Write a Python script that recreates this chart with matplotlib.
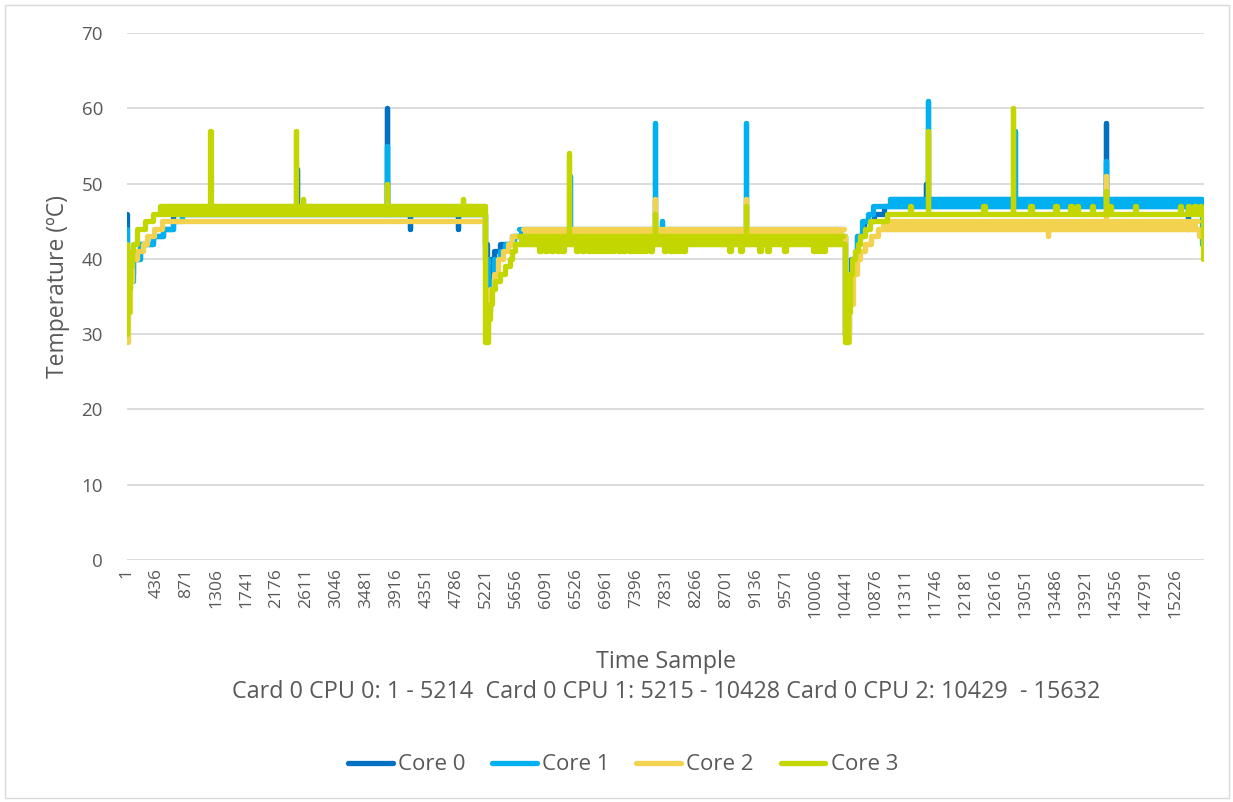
import matplotlib
matplotlib.use("Agg")
import matplotlib.pyplot as plt
from matplotlib.lines import Line2D
from matplotlib.patches import Rectangle

plt.rcParams['font.family'] = ['Open Sans', 'DejaVu Sans']

N_SAMPLES = 15632
tick_labels = ["1", "436", "871", "1306", "1741", "2176", "2611", "3046", "3481",
               "3916", "4351", "4786", "5221", "5656", "6091", "6526", "6961",
               "7396", "7831", "8266", "8701", "9136", "9571", "10006", "10441",
               "10876", "11311", "11746", "12181", "12616", "13051", "13486",
               "13921", "14356", "14791", "15226"]
y_ticks = [0, 10, 20, 30, 40, 50, 60, 70]
series_names = ["Core 0", "Core 1", "Core 2", "Core 3"]
series_colors = ["#0070C0", "#00B0F0", "#F2D24E", "#C4D600"]

# step levels (sample, temperature)
core0_levels = [(1, 46), (3, 41), (10, 35), (40, 38), (100, 40), (200, 42), (380, 43),
                (530, 44), (680, 46),
                (5210, 42), (5235, 33), (5260, 37), (5290, 40), (5330, 41), (5420, 42),
                (5600, 43),
                (10429, 30), (10470, 36), (10520, 40), (10600, 43), (10700, 45),
                (10850, 46), (11000, 47), (15620, 42)]
core1_levels = [(1, 44), (3, 38), (10, 34), (40, 37), (100, 40), (200, 42), (380, 43),
                (530, 44), (680, 45), (800, 46),
                (5210, 40), (5240, 33), (5280, 37), (5330, 40), (5420, 41), (5500, 42),
                (5620, 43),
                (10429, 30), (10480, 36), (10530, 40), (10600, 43), (10680, 45),
                (10760, 46), (10835, 47), (11080, 48), (15615, 42)]
core2_levels = [(1, 29), (20, 33), (45, 37), (80, 40), (150, 41), (240, 42), (300, 43),
                (400, 44), (520, 45),
                (5206, 29), (5240, 33), (5280, 36), (5330, 38), (5390, 40), (5460, 41),
                (5530, 42), (5600, 43),
                (10430, 29), (10480, 34), (10540, 38), (10600, 40), (10650, 41),
                (10720, 42), (10800, 43), (10900, 44), (15560, 43), (15625, 42)]
core3_levels = [(1, 42), (4, 30), (15, 33), (30, 36), (50, 39), (75, 41), (100, 42),
                (150, 44), (270, 45), (385, 46), (485, 47),
                (5204, 29), (5240, 32), (5277, 34), (5310, 36), (5350, 37), (5422, 38),
                (5495, 39), (5568, 40), (5600, 41), (5640, 42),
                (10430, 29), (10470, 33), (10500, 38), (10530, 40), (10573, 41),
                (10610, 42), (10645, 43), (10718, 44), (10790, 45), (11035, 46),
                (15625, 40)]

# short excursions (sample, temperature, duration in samples)
core0_events = [(2470, 52, 3), (3780, 60, 3), (4110, 44, 3), (4805, 44, 3),
                (11600, 50, 3), (14220, 58, 3), (15405, 44, 3)]
core1_events = [(3780, 55, 3), (6440, 51, 3), (7672, 58, 3), (7770, 45, 3),
                (8990, 58, 3), (11635, 61, 3), (12890, 57, 3), (14220, 53, 3)]
core2_events = [(7672, 48, 3), (8990, 48, 3), (13375, 43, 3), (14220, 51, 3)]
core3_events = [(1218, 57, 3), (2463, 57, 3), (2560, 48, 3), (3780, 50, 3),
                (4882, 48, 3),
                (5980, 41, 30), (6080, 41, 30), (6158, 41, 30), (6250, 41, 30),
                (6320, 41, 30), (6420, 54, 3), (6520, 41, 30), (6608, 41, 30),
                (6700, 41, 30), (6776, 41, 30), (6850, 41, 30), (6921, 41, 30),
                (6990, 41, 30), (7052, 41, 30), (7130, 41, 30), (7212, 41, 30),
                (7300, 41, 30), (7381, 41, 30), (7450, 41, 30), (7512, 41, 30),
                (7600, 41, 30), (7672, 46, 3), (7800, 41, 30), (7889, 41, 30),
                (7950, 41, 30), (8010, 41, 30), (8073, 41, 30),
                (8750, 41, 30), (8905, 41, 30), (8990, 47, 3), (9185, 41, 30),
                (9293, 41, 30), (9544, 41, 30), (9969, 41, 30), (10040, 41, 30),
                (10114, 41, 30),
                (11370, 47, 20), (11635, 57, 3), (12437, 47, 20), (12870, 60, 3),
                (13115, 47, 20), (13478, 47, 20), (13696, 47, 20), (13793, 47, 20),
                (14011, 47, 20), (14220, 49, 3), (14272, 47, 20), (14635, 47, 20),
                (15290, 47, 20), (15400, 47, 20), (15500, 47, 20), (15580, 47, 20)]

# ranges where a core flickers between two adjacent levels (start, end, low, high)
core0_bands = []
core1_bands = [(5700, 10400, 43, 44), (11080, 15600, 47, 48)]
core2_bands = [(5750, 10410, 43, 44), (10950, 15550, 44, 45)]
core3_bands = [(500, 5200, 46, 47), (5700, 10400, 42, 43)]

all_levels = [core0_levels, core1_levels, core2_levels, core3_levels]
all_events = [core0_events, core1_events, core2_events, core3_events]
all_bands = [core0_bands, core1_bands, core2_bands, core3_bands]


def level_at(levels, s):
    v = levels[0][1]
    for ls, lv in levels:
        if ls <= s:
            v = lv
    return v


def build_trace(levels, events):
    pts = list(levels)
    for s, v, w in events:
        base = level_at(levels, s)
        pts.append((s, v))
        pts.append((s + w, base))
    pts.sort(key=lambda p: p[0])
    xs = [p[0] for p in pts] + [N_SAMPLES]
    ys = [p[1] for p in pts] + [pts[-1][1]]
    return xs, ys


W, H = 1233, 802
fig = plt.figure(figsize=(W / 100, H / 100), dpi=100)
fig.patches.append(Rectangle((4.5 / W, 4.5 / H), (W - 9) / W, (H - 9) / H,
                             transform=fig.transFigure, fill=False,
                             edgecolor="#D9D9D9", linewidth=1.0))
ax = fig.add_axes([126.5 / W, 1 - 560 / H, (1203.6 - 126.5) / W, (560 - 33) / H])

text_color = "#595959"
lw = 3.8
for i in range(4):
    z = 3 + i
    xs, ys = build_trace(all_levels[i], all_events[i])
    for a, b, lo, hi in all_bands[i]:
        ax.fill_between([a, b], [lo, lo], [hi, hi], color=series_colors[i],
                        linewidth=0, zorder=z)
        ax.plot([a, b], [lo, lo], color=series_colors[i], lw=lw,
                solid_capstyle="round", zorder=z)
        ax.plot([a, b], [hi, hi], color=series_colors[i], lw=lw,
                solid_capstyle="round", zorder=z)
    ax.plot(xs, ys, drawstyle="steps-post", color=series_colors[i], lw=lw,
            solid_capstyle="round", solid_joinstyle="round", zorder=z)

ax.set_xlim(0.5, N_SAMPLES + 0.5)
ax.set_ylim(0, 70)
ax.set_yticks(y_ticks)
ax.set_yticklabels([str(v) for v in y_ticks])
tick_pos = [int(t) for t in tick_labels]
ax.set_xticks(tick_pos)
ax.set_xticklabels(tick_labels, rotation=90)
ax.tick_params(axis="x", length=0, pad=6, labelsize=12.5, labelcolor=text_color)
ax.tick_params(axis="y", length=0, pad=17, labelsize=13.5, labelcolor=text_color)
ax.grid(axis="y", color="#D9D9D9", linewidth=1.3, zorder=0)
ax.set_axisbelow(True)
for sp in ax.spines.values():
    sp.set_visible(False)

ax.set_ylabel("Temperature (ºC)", fontsize=16.5, color=text_color)
ax.yaxis.set_label_coords((70 - 126.5) / 1077, (560 - 287) / 527)

fig.text(666 / W, 1 - 662 / H, "Time Sample", ha="center", va="center",
         fontsize=16.8, color=text_color)
fig.text(666 / W, 1 - 692 / H,
         "Card 0 CPU 0: 1 - 5214  Card 0 CPU 1: 5215 - 10428 Card 0 CPU 2: 10429  - 15632",
         ha="center", va="center", fontsize=16.8, color=text_color)

handles = [Line2D([], [], color=c, lw=lw, solid_capstyle="round") for c in series_colors]
fig.legend(handles, series_names, loc="center", bbox_to_anchor=(623 / W, 1 - 765 / H),
           ncol=4, frameon=False, fontsize=16, handlelength=2.0, handletextpad=0.25,
           columnspacing=1.2, labelcolor=text_color)

fig.savefig("out.png", dpi=100)
